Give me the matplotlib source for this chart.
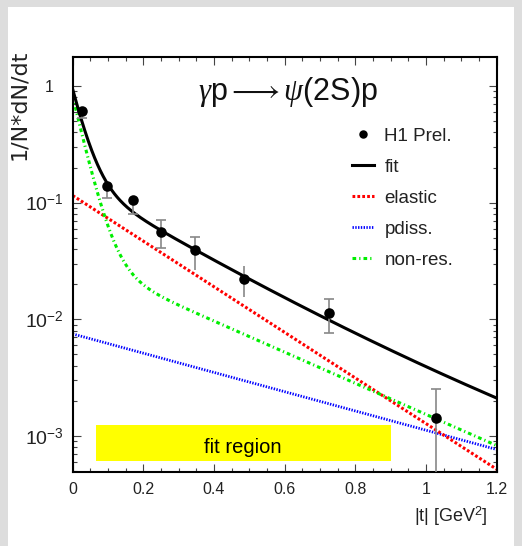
import numpy as np
import matplotlib
matplotlib.use("Agg")
import matplotlib.pyplot as plt
from matplotlib.ticker import MultipleLocator, LogLocator, NullFormatter
from matplotlib.patches import Rectangle

plt.rcParams["font.family"] = ["Liberation Sans", "DejaVu Sans"]
plt.rcParams["mathtext.fontset"] = "custom"
plt.rcParams["mathtext.rm"] = "Liberation Sans"
plt.rcParams["mathtext.it"] = "Liberation Serif:italic"
plt.rcParams["mathtext.bf"] = "Liberation Sans:bold"

# ---- H1 preliminary |t| distribution, gamma p -> psi(2S) p ----
t_data = [0.025, 0.098, 0.172, 0.250, 0.346, 0.486, 0.724, 1.028]
y_data = [0.611, 0.138, 0.1055, 0.0565, 0.0389, 0.0221, 0.0113, 0.00142]
err_lo = [0.075, 0.029, 0.025, 0.0158, 0.0126, 0.0066, 0.0036, 0.0011]
err_hi = [0.030, 0.010, 0.008, 0.0151, 0.0116, 0.0063, 0.0035, 0.0011]
cap_lo = [True, True, True, True, False, False, True, False]
cap_hi = [False, False, False, True, True, False, True, True]

# ---- fit components: amplitude * exp(-slope * |t|) ----
elastic_amp, elastic_slope = 0.115, 4.5
pdiss_amp, pdiss_slope = 0.0075, 1.9
nonres_amp_steep, nonres_slope_steep = 0.78, 30.0
nonres_amp_flat, nonres_slope_flat = 0.033, 3.07

# ---- fit region band ----
fit_region_t = (0.065, 0.90)
fit_region_y = (6.1e-4, 1.25e-3)

x_ticks = [0, 0.2, 0.4, 0.6, 0.8, 1.0, 1.2]
x_tick_labels = ["0", "0.2", "0.4", "0.6", "0.8", "1", "1.2"]
y_ticks = [1e-3, 1e-2, 1e-1, 1.0]
y_tick_labels = [r"$10^{-3}$", r"$10^{-2}$", r"$10^{-1}$", "1"]

t = np.linspace(0.0, 1.2, 600)
elastic = elastic_amp * np.exp(-elastic_slope * t)
pdiss = pdiss_amp * np.exp(-pdiss_slope * t)
nonres = (nonres_amp_steep * np.exp(-nonres_slope_steep * t)
          + nonres_amp_flat * np.exp(-nonres_slope_flat * t))
fit = elastic + pdiss + nonres

W, H = 522, 546
fig = plt.figure(figsize=(W / 100, H / 100), dpi=100, facecolor="#dddddd")
fig.patches.append(Rectangle((8 / W, 0), (514 - 8) / W, (H - 7) / H,
                             transform=fig.transFigure, facecolor="white",
                             edgecolor="none", zorder=-10))

ax_l, ax_r, ax_t, ax_b = 72.7, 496.7, 57.0, 472.0
ax = fig.add_axes([ax_l / W, 1 - ax_b / H, (ax_r - ax_l) / W, (ax_b - ax_t) / H])
ax.set_facecolor("white")
ax.set_yscale("log")
ax.set_xlim(0, 1.2)
ax.set_ylim(4.92e-4, 1.77)

# fit region band
ax.add_patch(Rectangle((fit_region_t[0], fit_region_y[0]),
                       fit_region_t[1] - fit_region_t[0],
                       fit_region_y[1] - fit_region_y[0],
                       facecolor="#ffff00", edgecolor="none", zorder=1))
ax.text(sum(fit_region_t) / 2, 7.9e-4, "fit region", ha="center", va="center",
        fontsize=14.5, color="black", zorder=1.5)

l_pd, = ax.plot(t, pdiss, color="#0000ff", lw=2.0, ls=(0, (0.5, 0.5)), zorder=2.0)
l_el, = ax.plot(t, elastic, color="#ff0000", lw=2.2, ls=(0, (0.9, 0.7)), zorder=2.1)
l_nr, = ax.plot(t, nonres, color="#00ee00", lw=2.2, ls=(0, (1.2, 1.0, 0.4, 1.0)), zorder=2.2)
l_fit, = ax.plot(t, fit, color="black", lw=2.2, zorder=2.5)

# data with error bars
td = np.array(t_data)
yd = np.array(y_data)
elo = np.array(err_lo)
ehi = np.array(err_hi)
ax.errorbar(td, yd, yerr=[elo, ehi], fmt="none", ecolor="#888888",
            elinewidth=1.2, capsize=0, zorder=2.6)
lo_mask = np.array(cap_lo)
hi_mask = np.array(cap_hi)
ax.plot(td[lo_mask], (yd - elo)[lo_mask], ls="none", marker="_", ms=7.5,
        mew=1.2, color="#888888", zorder=2.6)
ax.plot(td[hi_mask], (yd + ehi)[hi_mask], ls="none", marker="_", ms=7.5,
        mew=1.2, color="#888888", zorder=2.6)
l_data, = ax.plot(td, yd, ls="none", marker="o", ms=7.6, color="black",
                  markeredgewidth=0, zorder=3)

# axes frame and ticks
for s in ax.spines.values():
    s.set_linewidth(1.5)
ax.set_xticks(x_ticks, x_tick_labels)
ax.xaxis.set_minor_locator(MultipleLocator(0.05))
ax.set_yticks(y_ticks, y_tick_labels)
ax.yaxis.set_minor_locator(LogLocator(base=10, subs=np.arange(2, 10)))
ax.yaxis.set_minor_formatter(NullFormatter())
ax.tick_params(which="both", direction="in", top=True, right=True,
               color="#444444", width=0.8, labelcolor="#222222")
ax.tick_params(which="major", length=6)
ax.tick_params(which="minor", length=3)
ax.tick_params(axis="x", which="major", labelsize=11.5, pad=7)
ax.tick_params(axis="y", which="major", labelsize=14, pad=6.5)
for tick, val in zip(ax.yaxis.get_major_ticks(), y_ticks):
    if val == 1.0:
        tick.label1.set_fontsize(11.5)
        tick.set_pad(14)

ax.set_xlabel("|t| [GeV$^2$]", fontsize=13, ha="right", va="center", color="#222222")
ax.xaxis.set_label_coords((488 - ax_l) / (ax_r - ax_l), -(516 - ax_b) / (ax_b - ax_t))
ax.set_ylabel("1/N*dN/dt", fontsize=16, ha="center", va="center", color="#222222",
              family=["DejaVu Sans"])
ax.yaxis.label.set_rotation_mode("default")
ax.yaxis.set_label_coords((19 - ax_l) / (ax_r - ax_l), (ax_b - 105) / (ax_b - ax_t))

ax.text((288 - ax_l) / (ax_r - ax_l), (ax_b - 92) / (ax_b - ax_t),
        r"$\gamma\mathrm{p}\longrightarrow\psi(2\mathrm{S})\mathrm{p}$",
        fontsize=22, ha="center", va="center",
        transform=ax.transAxes, color="#111111")

ax.legend([l_data, l_fit, l_el, l_pd, l_nr],
          ["H1 Prel.", "fit", "elastic", "pdiss.", "non-res."],
          loc="upper left",
          bbox_to_anchor=((351.7 - ax_l) / (ax_r - ax_l), (ax_b - 127.5) / (ax_b - ax_t)),
          frameon=False, fontsize=13.5, handlelength=1.17, handletextpad=0.57,
          labelspacing=0.74, borderpad=0, borderaxespad=0, numpoints=1,
          markerscale=0.8, labelcolor="#222222")

fig.savefig("out.png", dpi=100, facecolor=fig.get_facecolor())
